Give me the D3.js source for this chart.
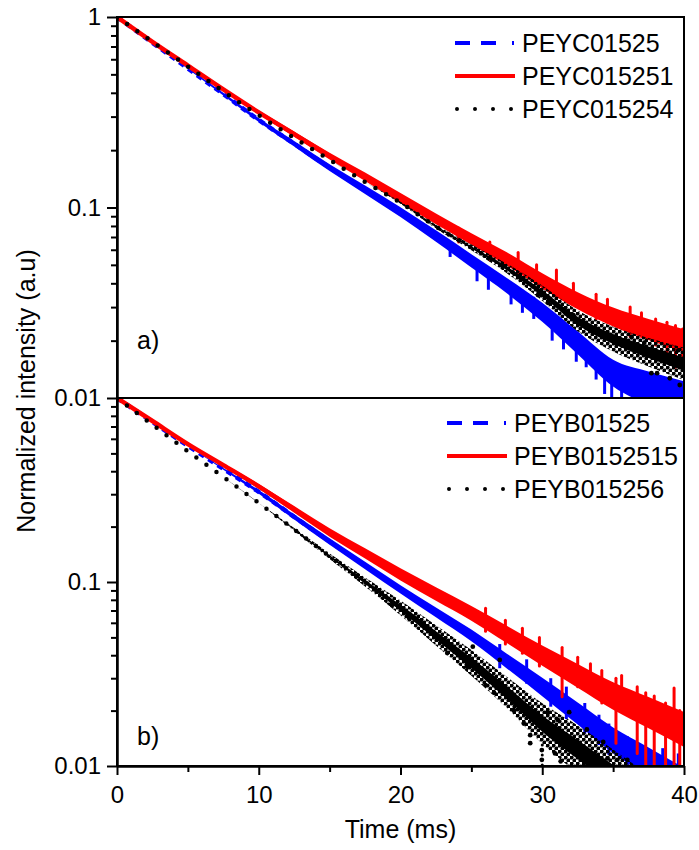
<!DOCTYPE html>
<html>
<head>
<meta charset="utf-8">
<script src="https://cdn.jsdelivr.net/npm/d3@7"></script>
<style>
  body { margin: 0; background: #fff; }
  svg { display: block; font-family: "Liberation Sans", Arial, sans-serif; }
</style>
</head>
<body>
<svg id="chart" width="699" height="850"></svg>
<script>
// time grid (ms) shared by every series
const times = [0, 2.5, 5, 7.5, 10, 12.5, 15, 17.5, 20, 22.5, 25, 27.5, 30, 32.5, 35, 37.5, 40]

// panel a) normalized intensity
const topBlue = [1, 0.733, 0.537, 0.394, 0.288, 0.216, 0.162, 0.124, 0.0946, 0.0708, 0.0525, 0.0389, 0.0282, 0.0195, 0.0135, 0.0112, 0.0093]
const topRed = [1, 0.741, 0.556, 0.417, 0.316, 0.243, 0.186, 0.145, 0.1122, 0.0871, 0.0684, 0.0537, 0.0412, 0.0324, 0.0266, 0.0229, 0.0200]
const topBlack = [1, 0.741, 0.550, 0.407, 0.305, 0.232, 0.178, 0.136, 0.106, 0.0794, 0.0617, 0.0479, 0.0355, 0.0254, 0.0204, 0.0174, 0.0151]
// noise half width (decades)
const topBlueNoise = [0, 0, 0.003, 0.007, 0.01, 0.014, 0.018, 0.022, 0.026, 0.03, 0.035, 0.04, 0.05, 0.06, 0.07, 0.09, 0.12]
const topRedNoise = [0, 0, 0.003, 0.007, 0.01, 0.014, 0.018, 0.022, 0.026, 0.028, 0.03, 0.035, 0.04, 0.045, 0.05, 0.055, 0.06]
const topBlackNoise = [0, 0, 0, 0, 0, 0, 0, 0, 0.005, 0.01, 0.015, 0.025, 0.04, 0.055, 0.065, 0.075, 0.085]
// spikes [t, high, low]
const topBlueSpikes = [[23.5, 0.066, 0.055], [25.4, 0.052, 0.041], [26.2, 0.048, 0.037], [27.8, 0.040, 0.031], [28.6, 0.037, 0.028],
  [29.4, 0.034, 0.026], [30.7, 0.028, 0.020], [31.5, 0.025, 0.018], [32.4, 0.022, 0.0155], [33.1, 0.020, 0.0145], [33.8, 0.018, 0.0125],
  [34.4, 0.016, 0.0105], [34.9, 0.015, 0.009], [35.6, 0.014, 0.009], [36.4, 0.013, 0.009], [37.3, 0.0125, 0.009], [38.1, 0.012, 0.009],
  [39.0, 0.0115, 0.009], [39.6, 0.011, 0.009]]
const topRedSpikes = [[24.1, 0.078, 0.066], [26.3, 0.066, 0.053], [28.3, 0.058, 0.045], [29.6, 0.050, 0.040], [31.0, 0.047, 0.034],
  [32.2, 0.040, 0.031], [33.8, 0.035, 0.026], [34.6, 0.033, 0.025], [36.2, 0.030, 0.021], [37.0, 0.028, 0.021], [38.0, 0.026, 0.019],
  [38.8, 0.025, 0.017], [39.4, 0.024, 0.0145], [39.9, 0.023, 0.014]]
const topBlackSpikes = []
// scattered points [t, value]
const topBlackDots = [[29.7, 0.0347], [30.4, 0.0316], [32.2, 0.0272], [36.3, 0.0209], [37.2, 0.0195], [37.7, 0.0135], [38.1, 0.0135], [39.0, 0.0127], [39.6, 0.0178], [39.7, 0.0117]]

// panel b)
const botBlue = [1, 0.741, 0.550, 0.412, 0.309, 0.226, 0.166, 0.123, 0.0912, 0.0684, 0.0513, 0.0372, 0.0269, 0.0193, 0.0138, 0.0105, 0.00794]
const botRed = [1, 0.750, 0.562, 0.432, 0.331, 0.248, 0.186, 0.143, 0.110, 0.0861, 0.0676, 0.0519, 0.0398, 0.0309, 0.0240, 0.0195, 0.0158]
const botBlack = [1, 0.716, 0.513, 0.372, 0.269, 0.193, 0.138, 0.100, 0.0724, 0.0513, 0.0363, 0.0251, 0.0170, 0.0123, 0.00891, 0.00631, 0.00447]
const botBlueNoise = [0, 0, 0, 0.005, 0.01, 0.014, 0.017, 0.02, 0.023, 0.027, 0.032, 0.04, 0.05, 0.06, 0.07, 0.08, 0.09]
const botRedNoise = [0, 0, 0.004, 0.008, 0.013, 0.018, 0.023, 0.028, 0.033, 0.037, 0.04, 0.047, 0.055, 0.065, 0.075, 0.085, 0.095]
const botBlackNoise = [0, 0, 0, 0, 0, 0.008, 0.015, 0.025, 0.04, 0.055, 0.07, 0.085, 0.11, 0.13, 0.14, 0.15, 0.15]
const botBlueSpikes = [[27.0, 0.046, 0.034], [28.9, 0.038, 0.028], [30.6, 0.030, 0.021], [31.7, 0.027, 0.018], [33.0, 0.022, 0.015],
  [34.0, 0.019, 0.013], [34.7, 0.017, 0.0115], [36.0, 0.0145, 0.009], [37.0, 0.013, 0.009], [38.5, 0.0125, 0.009], [39.6, 0.0117, 0.009]]
const botRedSpikes = [[26.0, 0.072, 0.054], [27.4, 0.062, 0.046], [28.6, 0.056, 0.041], [29.8, 0.050, 0.035], [31.4, 0.044, 0.0238],
  [32.5, 0.039, 0.027], [33.4, 0.036, 0.025], [34.2, 0.033, 0.022], [35.2, 0.030, 0.0133], [35.6, 0.031, 0.020], [36.7, 0.027, 0.0117],
  [37.3, 0.025, 0.009], [37.9, 0.024, 0.009], [38.7, 0.022, 0.009], [39.3, 0.0265, 0.0095], [39.7, 0.020, 0.009]]
const botBlackSpikes = [[30.0, 0.013, 0.009]]
const botBlackDots = [[19.4, 0.075], [20.6, 0.0637], [23.3, 0.0411], [24.7, 0.0346], [25.1, 0.0445], [26.0, 0.0275], [26.6, 0.0250],
  [27.0, 0.0377], [27.7, 0.0237], [28.0, 0.0201], [28.3, 0.0219], [28.7, 0.0170], [29.15, 0.0147], [29.15, 0.0133], [29.97, 0.0108],
  [29.97, 0.0122], [30.4, 0.0195], [30.9, 0.0117], [31.1, 0.0178], [31.3, 0.0106], [31.5, 0.0144], [31.9, 0.0196], [32.1, 0.0133],
  [32.7, 0.0122], [33.15, 0.0158], [33.4, 0.0106], [34.3, 0.0135], [34.6, 0.0110], [35.3, 0.0108], [36.0, 0.0108]]

const topNames = ['PEYC01525', 'PEYC015251', 'PEYC015254']
const botNames = ['PEYB01525', 'PEYB0152515', 'PEYB015256']

const xMajor = [0, 10, 20, 30, 40]
const xMinor = [5, 15, 25, 35]
const yMinor = [0.02, 0.03, 0.04, 0.05, 0.06, 0.07, 0.08, 0.09, 0.2, 0.3, 0.4, 0.5, 0.6, 0.7, 0.8, 0.9]

const BLUE = '#0000ff'
const RED = '#ff0000'
const BLACK = '#000000'

const svg = d3.select('#chart')
const left = 117
const right = 684
const x = d3.scaleLinear().domain([0, 40]).range([left, right])
const yTop = d3.scaleLog().domain([0.01, 1]).range([398, 17])
const yBot = d3.scaleLog().domain([0.01, 1]).range([766, 398])

// speckle fill so the noisy black data reads as a cloud of dots
const pat = svg.append('defs').append('pattern')
  .attr('id', 'speckle').attr('patternUnits', 'userSpaceOnUse')
  .attr('width', 6).attr('height', 6)
pat.append('circle').attr('cx', 1.5).attr('cy', 1.5).attr('r', 2.1).attr('fill', BLACK)
pat.append('circle').attr('cx', 4.5).attr('cy', 4.5).attr('r', 2.1).attr('fill', BLACK)

function styleAxis(g) {
  g.selectAll('path, line').attr('stroke', '#000').attr('stroke-width', 2)
  g.selectAll('text').attr('font-size', 24).attr('fill', '#000')
    .attr('font-family', '"Liberation Sans", Arial, sans-serif')
}

function bandArea(y, noise, k) {
  return d3.area()
    .x((d, i) => x(times[i]))
    .y0((d, i) => y(d / Math.pow(10, noise[i] * k)))
    .y1((d, i) => y(d * Math.pow(10, noise[i] * k)))
    .curve(d3.curveMonotoneX)
}

function drawSeries(g, y, vals, noise, spikes, style) {
  if (style.speckle) {
    g.append('path').attr('d', bandArea(y, noise, 1)(vals)).attr('fill', 'url(#speckle)')
    g.append('path').attr('d', bandArea(y, noise, 0.4)(vals)).attr('fill', style.color)
  } else {
    g.append('path').attr('d', bandArea(y, noise, 1)(vals)).attr('fill', style.color)
  }
  const line = d3.line()
    .x((d, i) => x(times[i]))
    .y(d => y(d))
    .curve(d3.curveMonotoneX)
  g.append('path')
    .attr('d', line(vals))
    .attr('fill', 'none')
    .attr('stroke', style.color)
    .attr('stroke-width', 4.5)
    .attr('stroke-dasharray', style.dash)
    .attr('stroke-linecap', style.cap)
  g.selectAll(null).data(spikes).enter().append('line')
    .attr('x1', d => x(d[0])).attr('x2', d => x(d[0]))
    .attr('y1', d => y(d[1])).attr('y2', d => y(d[2]))
    .attr('stroke', style.color)
    .attr('stroke-width', 3)
    .attr('stroke-dasharray', style.spikeDash)
    .attr('stroke-linecap', style.cap)
}

function drawPanel(cfg) {
  const y = cfg.y
  const [y0, y1] = y.range()
  const clipId = 'clip' + cfg.id
  svg.append('clipPath').attr('id', clipId)
    .append('rect')
    .attr('x', left).attr('y', y1)
    .attr('width', right - left).attr('height', y0 - y1)

  const plot = svg.append('g').attr('clip-path', `url(#${clipId})`)
  drawSeries(plot, y, cfg.blue, cfg.blueNoise, cfg.blueSpikes, { color: BLUE, dash: '6 5', cap: 'butt', spikeDash: null })
  drawSeries(plot, y, cfg.red, cfg.redNoise, cfg.redSpikes, { color: RED, dash: null, cap: 'round', spikeDash: null })
  drawSeries(plot, y, cfg.black, cfg.blackNoise, cfg.blackSpikes, { color: BLACK, dash: '0 12.4', cap: 'round', spikeDash: '0 5', speckle: true })
  plot.selectAll(null).data(cfg.dots).enter().append('circle')
    .attr('cx', d => x(d[0])).attr('cy', d => y(d[1]))
    .attr('r', 2.4).attr('fill', BLACK)

  // frame
  svg.append('rect')
    .attr('x', left).attr('y', y1)
    .attr('width', right - left).attr('height', y0 - y1)
    .attr('fill', 'none').attr('stroke', '#000').attr('stroke-width', 2)

  // y axis
  const minor = svg.append('g').attr('transform', `translate(${left},0)`)
    .call(d3.axisLeft(y).tickValues(yMinor).tickSize(6).tickSizeOuter(0).tickFormat(''))
  styleAxis(minor)
  const major = svg.append('g').attr('transform', `translate(${left},0)`)
    .call(d3.axisLeft(y).tickValues(cfg.majors).tickSize(10).tickSizeOuter(0)
      .tickPadding(6).tickFormat(d3.format('~g')))
  styleAxis(major)

  // legend
  const lg = svg.append('g')
  cfg.names.forEach((name, i) => {
    const ly = cfg.legendY + i * 33
    const s = lg.append('line')
      .attr('x1', cfg.legendX).attr('x2', cfg.legendX + 60)
      .attr('y1', ly).attr('y2', ly)
      .attr('stroke-width', 4)
    if (i === 0) s.attr('stroke', BLUE).attr('stroke-dasharray', '15 11 15 16 2 40')
    if (i === 1) s.attr('stroke', RED)
    if (i === 2) s.attr('x1', cfg.legendX + 2).attr('x2', cfg.legendX + 58)
      .attr('stroke', BLACK).attr('stroke-dasharray', '0 18').attr('stroke-linecap', 'round')
    lg.append('text')
      .attr('x', cfg.legendX + 67).attr('y', ly).attr('dy', '0.36em')
      .attr('font-size', 25).text(name)
  })

  svg.append('text')
    .attr('x', 137).attr('y', cfg.tagY)
    .attr('font-size', 25).text(cfg.tag)
}

drawPanel({
  id: 'a', y: yTop, majors: [0.01, 0.1, 1],
  blue: topBlue, red: topRed, black: topBlack,
  blueNoise: topBlueNoise, redNoise: topRedNoise, blackNoise: topBlackNoise,
  blueSpikes: topBlueSpikes, redSpikes: topRedSpikes, blackSpikes: topBlackSpikes,
  dots: topBlackDots, names: topNames, legendX: 455, legendY: 43, tag: 'a)', tagY: 349
})
drawPanel({
  id: 'b', y: yBot, majors: [0.01, 0.1],
  blue: botBlue, red: botRed, black: botBlack,
  blueNoise: botBlueNoise, redNoise: botRedNoise, blackNoise: botBlackNoise,
  blueSpikes: botBlueSpikes, redSpikes: botRedSpikes, blackSpikes: botBlackSpikes,
  dots: botBlackDots, names: botNames, legendX: 447, legendY: 423, tag: 'b)', tagY: 745
})

// x axis
const xMinorAxis = svg.append('g').attr('transform', 'translate(0,766)')
  .call(d3.axisBottom(x).tickValues(xMinor).tickSize(6).tickSizeOuter(0).tickFormat(''))
styleAxis(xMinorAxis)
const xAxis = svg.append('g').attr('transform', 'translate(0,766)')
  .call(d3.axisBottom(x).tickValues(xMajor).tickSize(9).tickSizeOuter(0).tickPadding(11))
styleAxis(xAxis)

svg.append('text')
  .attr('x', x(20)).attr('y', 838)
  .attr('text-anchor', 'middle').attr('font-size', 25)
  .text('Time (ms)')

svg.append('text')
  .attr('transform', 'translate(35,391) rotate(-90)')
  .attr('text-anchor', 'middle').attr('font-size', 25)
  .text('Normalized intensity (a.u)')
</script>
</body>
</html>
